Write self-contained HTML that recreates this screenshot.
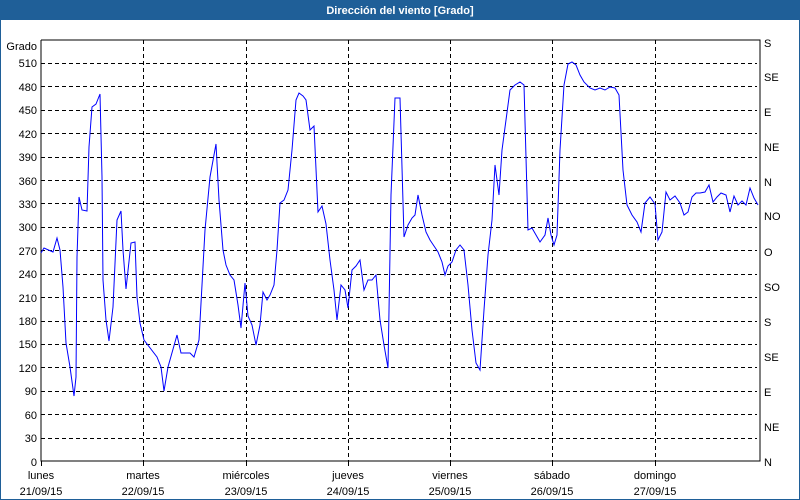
<!DOCTYPE html>
<html><head><meta charset="utf-8"><style>
html,body{margin:0;padding:0;width:800px;height:500px;overflow:hidden;background:#fff;font-family:"Liberation Sans",sans-serif}
</style></head><body>
<svg width="800" height="500" xmlns="http://www.w3.org/2000/svg" font-family="Liberation Sans, sans-serif" font-size="11">
<rect x="0" y="0" width="800" height="500" fill="#fff"/>
<rect x="0.5" y="0.5" width="799" height="499" fill="none" stroke="#1f5f98" stroke-width="1"/>
<rect x="0" y="0" width="800" height="20" fill="#1f5f98"/>
<text x="400" y="14" text-anchor="middle" fill="#fff" font-weight="bold" font-size="11">Dirección del viento [Grado]</text>
<g stroke="#000" stroke-dasharray="4,3" stroke-width="1">
<line x1="41" y1="63.5" x2="757" y2="63.5"/><line x1="41" y1="86.5" x2="757" y2="86.5"/><line x1="41" y1="110.5" x2="757" y2="110.5"/><line x1="41" y1="133.5" x2="757" y2="133.5"/><line x1="41" y1="157.5" x2="757" y2="157.5"/><line x1="41" y1="180.5" x2="757" y2="180.5"/><line x1="41" y1="203.5" x2="757" y2="203.5"/><line x1="41" y1="227.5" x2="757" y2="227.5"/><line x1="41" y1="250.5" x2="757" y2="250.5"/><line x1="41" y1="274.5" x2="757" y2="274.5"/><line x1="41" y1="297.5" x2="757" y2="297.5"/><line x1="41" y1="321.5" x2="757" y2="321.5"/><line x1="41" y1="344.5" x2="757" y2="344.5"/><line x1="41" y1="367.5" x2="757" y2="367.5"/><line x1="41" y1="391.5" x2="757" y2="391.5"/><line x1="41" y1="414.5" x2="757" y2="414.5"/><line x1="41" y1="438.5" x2="757" y2="438.5"/>
<line x1="143.5" y1="40" x2="143.5" y2="461"/><line x1="246.5" y1="40" x2="246.5" y2="461"/><line x1="348.5" y1="40" x2="348.5" y2="461"/><line x1="450.5" y1="40" x2="450.5" y2="461"/><line x1="552.5" y1="40" x2="552.5" y2="461"/><line x1="655.5" y1="40" x2="655.5" y2="461"/>
</g>
<g stroke="#000" stroke-width="1" fill="none">
<polyline points="41,40 41,461 760,461 760,40 41,40" stroke="#000"/>
<line x1="143.5" y1="461" x2="143.5" y2="466"/><line x1="246.5" y1="461" x2="246.5" y2="466"/><line x1="348.5" y1="461" x2="348.5" y2="466"/><line x1="450.5" y1="461" x2="450.5" y2="466"/><line x1="552.5" y1="461" x2="552.5" y2="466"/><line x1="655.5" y1="461" x2="655.5" y2="466"/><line x1="41.5" y1="461" x2="41.5" y2="466"/>
</g>
<g text-anchor="end" fill="#000">
<text x="37" y="50">Grado</text>
<text x="37" y="67">510</text><text x="37" y="91">480</text><text x="37" y="114">450</text><text x="37" y="138">420</text><text x="37" y="161">390</text><text x="37" y="185">360</text><text x="37" y="208">330</text><text x="37" y="231">300</text><text x="37" y="255">270</text><text x="37" y="278">240</text><text x="37" y="302">210</text><text x="37" y="325">180</text><text x="37" y="348">150</text><text x="37" y="372">120</text><text x="37" y="395">90</text><text x="37" y="419">60</text><text x="37" y="442">30</text><text x="37" y="466">0</text>
</g>
<g fill="#000">
<text x="764" y="47">S</text><text x="764" y="81">SE</text><text x="764" y="116">E</text><text x="764" y="151">NE</text><text x="764" y="186">N</text><text x="764" y="220">NO</text><text x="764" y="256">O</text><text x="764" y="291">SO</text><text x="764" y="326">S</text><text x="764" y="361">SE</text><text x="764" y="396">E</text><text x="764" y="431">NE</text><text x="764" y="466">N</text>
</g>
<g text-anchor="middle" fill="#000">
<text x="41" y="479">lunes</text><text x="41" y="495">21/09/15</text>
<text x="143" y="479">martes</text><text x="143" y="495">22/09/15</text>
<text x="246" y="479">miércoles</text><text x="246" y="495">23/09/15</text>
<text x="348" y="479">jueves</text><text x="348" y="495">24/09/15</text>
<text x="450" y="479">viernes</text><text x="450" y="495">25/09/15</text>
<text x="552" y="479">sábado</text><text x="552" y="495">26/09/15</text>
<text x="655" y="479">domingo</text><text x="655" y="495">27/09/15</text>
</g>
<polyline fill="none" stroke="#0000ff" stroke-width="1" points="41,253 44,248 53,252 57,238 60,250 63,287 66,343 70,367 74,396 76,377 77,257 79,197 82,210 87,211 89,147 92,107 96,104 100,94 102,177 103,280 106,320 109,341 113,307 117,220 121,211 123,250 126,289 131,243 135,242 137,297 140,323 144,340 157,357 161,367 164,391 168,367 177,335 181,353 190,353 194,357 199,340 205,230 210,177 216,144 219,200 223,250 226,265 230,275 234,280 238,305 241,328 245,283 248,316 252,325 256,345 260,325 263,292 267,300 270,295 274,285 277,250 280,203 284,200 288,190 292,150 296,100 299,93 303,96 306,100 310,130 314,126 318,212 322,206 326,224 330,260 334,290 337,320 341,285 345,290 348,308 352,270 356,266 360,260 364,290 368,280 372,280 376,275 380,320 384,345 388,368 391,195 395,98 400,98 404,237 408,225 412,218 415,215 418,195 422,215 426,232 430,240 434,246 438,252 442,262 445,275 448,266 452,262 456,250 460,245 464,250 468,285 472,330 476,363 480,370 484,310 488,255 492,220 495,165 499,195 502,150 506,120 510,90 515,85 520,82 524,85 528,230 532,228 536,235 540,242 545,235 548,218 551,235 554,245 557,235 560,150 564,85 568,64 572,62 576,65 580,75 584,82 590,88 595,90 600,88 605,90 610,87 615,88 619,95 623,170 627,205 632,215 637,222 641,232 645,203 650,197 655,204 658,240 662,232 666,192 670,200 675,196 680,203 684,215 688,212 692,197 696,193 700,193 705,192 709,185 713,202 717,197 721,193 726,195 730,212 734,196 738,205 742,201 746,205 750,188 754,198 758,205"/>
</svg>
</body></html>
